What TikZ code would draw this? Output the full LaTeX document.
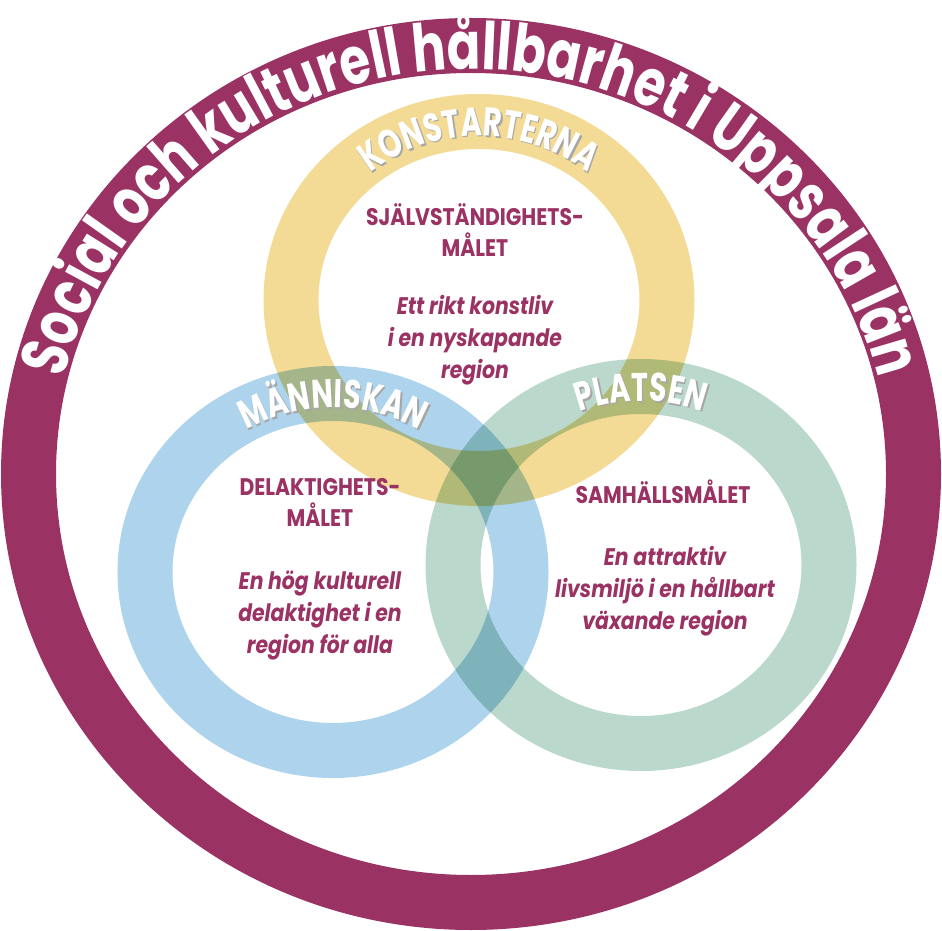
\documentclass[tikz,border=0pt]{standalone}
\usepackage{fontspec}
\setmainfont{Poppins}
\newfontfamily\ringfont{Poppins}[FakeStretch=0.75]
\newfontfamily\bandfont{Poppins}[FakeStretch=0.72]
\newfontfamily\goalfont{Poppins}[FakeStretch=0.85]
\usetikzlibrary{decorations.text}

\definecolor{lanpurple}{RGB}{155,50,100}
\definecolor{konstyellow}{RGB}{243,219,149}
\definecolor{manblue}{RGB}{173,212,236}
\definecolor{platsgreen}{RGB}{186,216,204}

\begin{document}
\begin{tikzpicture}[x=1pt,y=1pt,
  ring/.style={line width=55},
  band label/.style 2 args={decorate,decoration={text along path,text align=center,
    text={|\bandfont\bfseries\fontsize{40}{40}\selectfont\color{#1}|#2}}},
  goal/.style={text=lanpurple,align=center,inner sep=0,
    font=\goalfont\bfseries\fontsize{24}{31}\selectfont},
  aim/.style={goal,font=\goalfont\bfseries\itshape\fontsize{24}{32}\selectfont}]

\useasboundingbox (0,0) rectangle (942,930);
\fill[white] (0,0) rectangle (942,930);

\coordinate (mid) at (471,456);
\coordinate (yel) at (479,630);
\coordinate (blu) at (333,358);
\coordinate (gre) at (641,365);

\draw[ring,draw=lanpurple] (mid) ellipse [x radius=442.5,y radius=428.5];

\path[decorate,decoration={text along path,text align=center,
  text={|\ringfont\bfseries\fontsize{66}{66}\selectfont\color{white}|Social och kulturell hållbarhet i Uppsala län}}]
  (mid) ++(172:419 and 405) arc[start angle=172,end angle=8,x radius=419,y radius=405];

\begin{scope}[blend mode=multiply]
\draw[ring,draw=konstyellow] (yel) ellipse [x radius=188,y radius=178.5];
\draw[ring,draw=manblue] (blu) ellipse [x radius=188,y radius=178.5];
\draw[ring,draw=platsgreen] (gre) ellipse [x radius=188,y radius=178.5];
\end{scope}

\foreach \dx/\dy/\col in {1.5/-1.5/black!35,0/0/white}{
\path[band label={\col}{KONSTARTERNA}] ([shift={(\dx,\dy)}]yel) ++(160:172 and 164) arc[start angle=160,end angle=20,x radius=172,y radius=164];
\path[band label={\col}{MÄNNISKAN}] ([shift={(\dx,\dy)}]blu) ++(160:172 and 164) arc[start angle=160,end angle=20,x radius=172,y radius=164];
\path[band label={\col}{PLATSEN}] ([shift={(\dx,\dy)}]gre) ++(160:172 and 164) arc[start angle=160,end angle=20,x radius=172,y radius=164];
}

\node[goal] (konstgoal) at (475,700) {SJÄLVSTÄNDIGHETS-\\MÅLET};
\node[aim] (konstaim) at (475,590) {Ett rikt konstliv\\i en nyskapande\\region};

\node[goal] (mangoal) at (320,428) {DELAKTIGHETS-\\MÅLET};
\node[aim] (manaim) at (320,315) {En hög kulturell\\delaktighet i en\\region för alla};

\node[goal] (platsgoal) at (663,438) {SAMHÄLLSMÅLET};
\node[aim] (platsaim) at (665,339) {En attraktiv\\livsmiljö i en hållbart\\växande region};

\end{tikzpicture}
\end{document}
